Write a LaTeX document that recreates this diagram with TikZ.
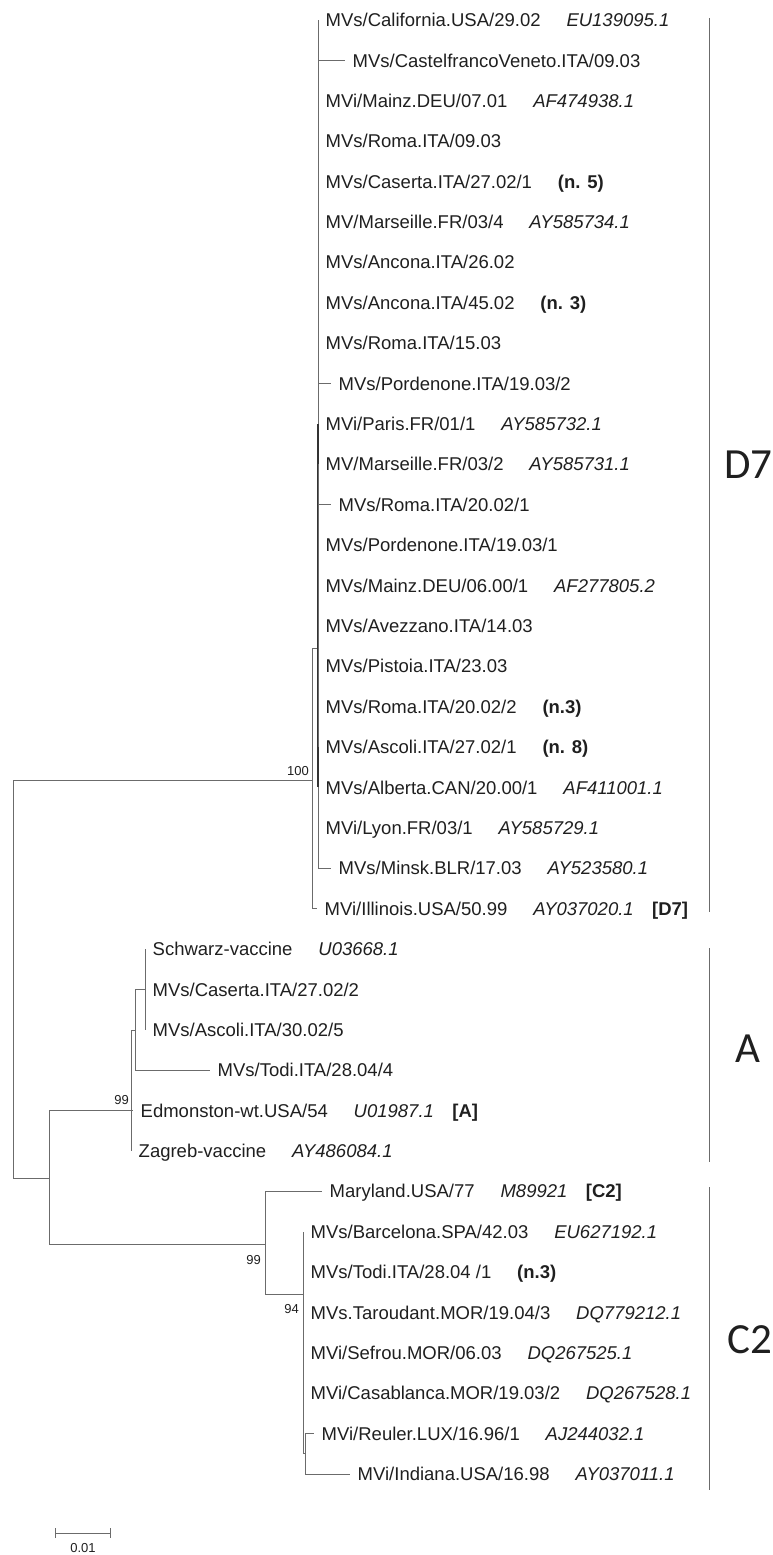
\documentclass[tikz,border=0pt]{standalone}
\usepackage{fontspec}
\setsansfont{Liberation Sans}
\newfontfamily\cladefont{Carlito}
\usetikzlibrary{arrows.meta,positioning}
\newcommand{\lblsize}{\fontsize{18.5}{22}\selectfont}
\tikzset{every node/.style={inner sep=0pt,text height=13.2pt,text depth=0pt,text=black!88}}
\tikzset{lf/.style={anchor=west,inner xsep=7.5pt}}
\tikzset{acc/.style={anchor=west,font=\sffamily\lblsize\itshape}}
\tikzset{nb/.style={anchor=west,font=\sffamily\lblsize\bfseries}}
\tikzset{bs/.style={font=\sffamily\fontsize{13}{13}\selectfont,text height=9.3pt}}
\tikzset{cl/.style={anchor=west,font=\cladefont\fontsize{43}{43}\selectfont,text height=27.7pt}}
\tikzset{br/.style={draw=black!58,line width=1pt}}
\tikzset{bk/.style={draw=black!80,line width=2pt}}

\begin{document}
\begin{tikzpicture}[x=1pt,y=-1pt,font=\sffamily\lblsize,node distance=18pt]
\useasboundingbox (0,0) rectangle (773,1555);
  % inner nodes of the tree
  \coordinate (r) at (13,979);
  \coordinate (cD) at (312,780);
  \coordinate (d7b) at (318,648);
  \coordinate (d7c) at (318,606);
  \coordinate (cAC) at (49,1178);
  \coordinate (cA) at (131,1110.6);
  \coordinate (a2) at (135,1030);
  \coordinate (a3) at (145,989.4);
  \coordinate (cC) at (265,1244);
  \coordinate (c2) at (303,1294);
  \coordinate (c3) at (305,1453);

  % D7
  \node[lf] (cal) at (318,20.0) {MVs/California.USA/29.02};
  \node[acc,right=of cal] (cal-id) {EU139095.1};
  \node[lf] (cfv) at (345,60.4) {MVs/CastelfrancoVeneto.ITA/09.03};
  \node[lf] (mz1) at (318,100.8) {MVi/Mainz.DEU/07.01};
  \node[acc,right=of mz1] (mz1-id) {AF474938.1};
  \node[lf] (rm1) at (318,141.2) {MVs/Roma.ITA/09.03};
  \node[lf] (cs1) at (318,181.6) {MVs/Caserta.ITA/27.02/1};
  \node[nb,right=of cs1] (cs1-n) {(n. 5)};
  \node[lf] (ms4) at (318,221.9) {MV/Marseille.FR/03/4};
  \node[acc,right=of ms4] (ms4-id) {AY585734.1};
  \node[lf] (an1) at (318,262.3) {MVs/Ancona.ITA/26.02};
  \node[lf] (an2) at (318,302.7) {MVs/Ancona.ITA/45.02};
  \node[nb,right=of an2] (an2-n) {(n. 3)};
  \node[lf] (rm2) at (318,343.1) {MVs/Roma.ITA/15.03};
  \node[lf] (pd2) at (331,383.5) {MVs/Pordenone.ITA/19.03/2};
  \node[lf] (par) at (318,423.9) {MVi/Paris.FR/01/1};
  \node[acc,right=of par] (par-id) {AY585732.1};
  \node[lf] (ms2) at (318,464.3) {MV/Marseille.FR/03/2};
  \node[acc,right=of ms2] (ms2-id) {AY585731.1};
  \node[lf] (rm3) at (331,504.7) {MVs/Roma.ITA/20.02/1};
  \node[lf] (pd1) at (318,545.1) {MVs/Pordenone.ITA/19.03/1};
  \node[lf] (mz2) at (318,585.5) {MVs/Mainz.DEU/06.00/1};
  \node[acc,right=of mz2] (mz2-id) {AF277805.2};
  \node[lf] (avz) at (318,625.9) {MVs/Avezzano.ITA/14.03};
  \node[lf] (pst) at (318,666.2) {MVs/Pistoia.ITA/23.03};
  \node[lf] (rm4) at (318,706.6) {MVs/Roma.ITA/20.02/2};
  \node[nb,right=of rm4] (rm4-n) {(n.3)};
  \node[lf] (asc) at (318,747.0) {MVs/Ascoli.ITA/27.02/1};
  \node[nb,right=of asc] (asc-n) {(n. 8)};
  \node[lf] (alb) at (318,787.4) {MVs/Alberta.CAN/20.00/1};
  \node[acc,right=of alb] (alb-id) {AF411001.1};
  \node[lf] (lyo) at (318,827.8) {MVi/Lyon.FR/03/1};
  \node[acc,right=of lyo] (lyo-id) {AY585729.1};
  \node[lf] (min) at (331,868.2) {MVs/Minsk.BLR/17.03};
  \node[acc,right=of min] (min-id) {AY523580.1};
  \node[lf] (ill) at (317,908.6) {MVi/Illinois.USA/50.99};
  \node[acc,right=of ill] (ill-id) {AY037020.1};
  \node[nb,right=of ill-id] (ill-n) {[D7]};

  % A
  \node[lf] (swz) at (145,949.0) {Schwarz-vaccine};
  \node[acc,right=of swz] (swz-id) {U03668.1};
  \node[lf] (cs2) at (145,989.4) {MVs/Caserta.ITA/27.02/2};
  \node[lf] (as2) at (145,1029.8) {MVs/Ascoli.ITA/30.02/5};
  \node[lf] (td1) at (210,1070.2) {MVs/Todi.ITA/28.04/4};
  \node[lf] (edm) at (133,1110.6) {Edmonston-wt.USA/54};
  \node[acc,right=of edm] (edm-id) {U01987.1};
  \node[nb,right=of edm-id] (edm-n) {[A]};
  \node[lf] (zag) at (131,1150.9) {Zagreb-vaccine};
  \node[acc,right=of zag] (zag-id) {AY486084.1};

  % C2
  \node[lf] (mry) at (322,1191.3) {Maryland.USA/77};
  \node[acc,right=of mry] (mry-id) {M89921};
  \node[nb,right=of mry-id] (mry-n) {[C2]};
  \node[lf] (bcn) at (303,1231.7) {MVs/Barcelona.SPA/42.03};
  \node[acc,right=of bcn] (bcn-id) {EU627192.1};
  \node[lf] (td2) at (303,1272.1) {MVs/Todi.ITA/28.04 /1};
  \node[nb,right=of td2] (td2-n) {(n.3)};
  \node[lf] (tar) at (303,1312.5) {MVs.Taroudant.MOR/19.04/3};
  \node[acc,right=of tar] (tar-id) {DQ779212.1};
  \node[lf] (sef) at (303,1352.9) {MVi/Sefrou.MOR/06.03};
  \node[acc,right=of sef] (sef-id) {DQ267525.1};
  \node[lf] (cas) at (303,1393.3) {MVi/Casablanca.MOR/19.03/2};
  \node[acc,right=of cas] (cas-id) {DQ267528.1};
  \node[lf] (reu) at (314,1433.7) {MVi/Reuler.LUX/16.96/1};
  \node[acc,right=of reu] (reu-id) {AJ244032.1};
  \node[lf] (ind) at (350,1474.0) {MVi/Indiana.USA/16.98};
  \node[acc,right=of ind] (ind-id) {AY037011.1};

  % bootstrap values
  \node[bs,anchor=south east] (b100) at (309,776) {100};
  \node[bs,anchor=south east] (b99a) at (129,1105) {99};
  \node[bs,anchor=north east] (b99c) at (261,1255) {99};
  \node[bs,anchor=north east] (b94) at (299,1304) {94};

  % branches
  \draw[br] (r) |- (cD);
  \draw[br] (r) |- (cAC);
  \draw[br] (cD) |- (d7b);
  \draw[br] (cD) |- (ill);
  \draw[br] (d7b) |- (cal);
  \draw[br] (d7b) |- (cfv);
  \draw[br] (d7b) |- (mz1);
  \draw[br] (d7b) |- (rm1);
  \draw[br] (d7b) |- (cs1);
  \draw[br] (d7b) |- (ms4);
  \draw[br] (d7b) |- (an1);
  \draw[br] (d7b) |- (an2);
  \draw[br] (d7b) |- (rm2);
  \draw[br] (d7b) |- (pd2);
  \draw[br] (d7b) |- (lyo);
  \draw[br] (d7b) |- (min);
  \draw[bk] (d7c) |- (par);
  \draw[bk] (d7c) |- (alb);
  \draw[br] (d7c) |- (ms2);
  \draw[br] (d7c) |- (rm3);
  \draw[br] (d7c) |- (pd1);
  \draw[br] (d7c) |- (mz2);
  \draw[br] (d7c) |- (avz);
  \draw[br] (d7c) |- (pst);
  \draw[br] (d7c) |- (rm4);
  \draw[br] (d7c) |- (asc);
  \draw[br] (cAC) |- (cA);
  \draw[br] (cAC) |- (cC);
  \draw[br] (cA) |- (a2);
  \draw[br] (cA) |- (edm);
  \draw[br] (cA) |- (zag);
  \draw[br] (a2) |- (a3);
  \draw[br] (a2) |- (td1);
  \draw[br] (a3) |- (swz);
  \draw[br] (a3) |- (cs2);
  \draw[br] (a3) |- (as2);
  \draw[br] (cC) |- (mry);
  \draw[br] (cC) |- (c2);
  \draw[br] (c2) |- (bcn);
  \draw[br] (c2) |- (td2);
  \draw[br] (c2) |- (tar);
  \draw[br] (c2) |- (sef);
  \draw[br] (c2) |- (cas);
  \draw[br] (c2) |- (c3);
  \draw[br] (c3) |- (reu);
  \draw[br] (c3) |- (ind);

  % clades
  \coordinate (kD1) at (709,18);
  \coordinate (kD2) at (709,912);
  \coordinate (kA1) at (709,948);
  \coordinate (kA2) at (709,1162);
  \coordinate (kC1) at (709,1187);
  \coordinate (kC2) at (709,1490);
  \draw[br] (kD1) -- (kD2);
  \draw[br] (kA1) -- (kA2);
  \draw[br] (kC1) -- (kC2);
  \node[cl] (lD) at (724,465) {D7};
  \node[cl] (lA) at (735,1049) {A};
  \node[cl] (lC) at (727,1340) {C2};

  % scale
  \coordinate (s1) at (55,1533);
  \coordinate (s2) at (111,1533);
  \draw[br,{Bar[width=10pt]}-{Bar[width=10pt]}] (s1) -- (s2);
  \node[bs] (sc) at (83,1548) {0.01};
\end{tikzpicture}
\end{document}
